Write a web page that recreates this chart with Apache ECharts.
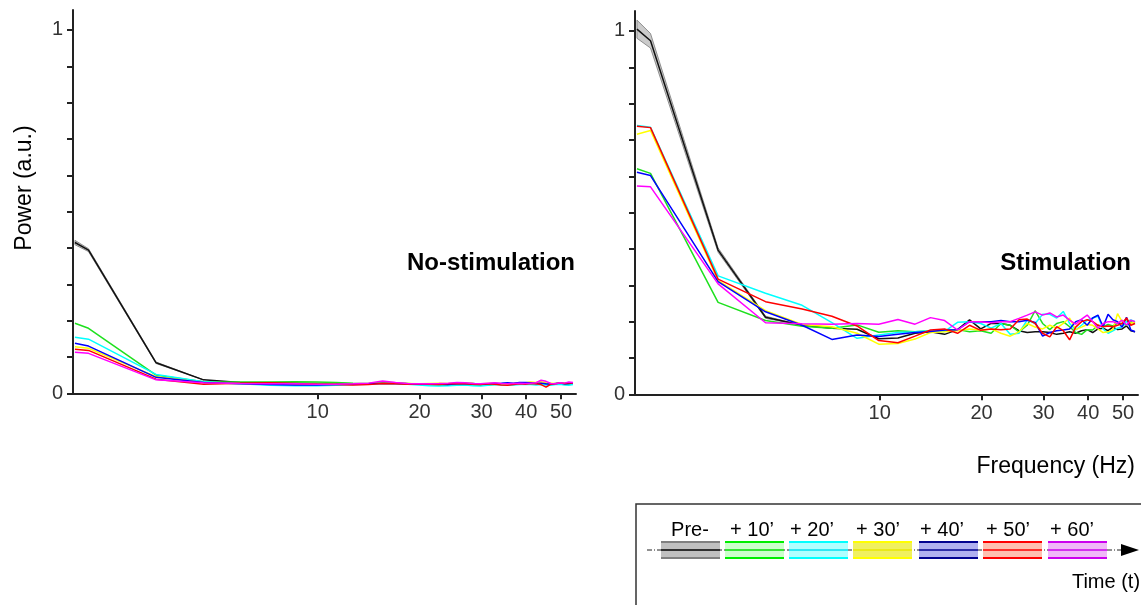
<!DOCTYPE html>
<html>
<head>
<meta charset="utf-8">
<script src="https://cdn.jsdelivr.net/npm/echarts@6/dist/echarts.min.js"></script>
<style>
html,body{margin:0;padding:0;background:#fff;}
#chart{width:1141px;height:605px;}
</style>
</head>
<body>
<div id="chart"></div>
<script>
// ---------------- DATA ----------------
const FREQ_HZ = [1.2, 1.42, 2.84, 4.26, 5.68, 7.1, 8.52, 9.94, 11.36, 12.78, 14.2, 15.62, 17.04, 18.46, 19.88, 21.3, 22.72, 24.14, 25.56, 26.98, 28.4, 29.82, 31.24, 32.66, 34.08, 35.5, 36.92, 38.34, 39.76, 41.18, 42.6, 44.02, 45.44, 46.86, 48.28, 49.7, 51.12, 52.54, 53.96];
const X_TICKS_HZ = [10, 20, 30, 40, 50];
const X_RANGE_HZ = [1.17, 55.0];
const Y_TICKS = [0, 0.1, 0.2, 0.3, 0.4, 0.5, 0.6, 0.7, 0.8, 0.9, 1.0];
const Y_LABELS = [0, 1];
const Y_MAX = 1.055;
const TIME_LABELS = ['Pre-', '+ 10\u2019', '+ 20\u2019', '+ 30\u2019', '+ 40\u2019', '+ 50\u2019', '+ 60\u2019'];

// No-stimulation panel
const NOSTIM_PRE = [0.415, 0.394, 0.084, 0.037, 0.03, 0.029, 0.028, 0.027, 0.027, 0.026, 0.026, 0.028, 0.027, 0.026, 0.025, 0.024, 0.025, 0.024, 0.025, 0.026, 0.027, 0.025, 0.024, 0.026, 0.025, 0.024, 0.026, 0.028, 0.029, 0.028, 0.026, 0.027, 0.025, 0.024, 0.026, 0.027, 0.025, 0.026, 0.027];
const NOSTIM_10 = [0.193, 0.179, 0.05, 0.032, 0.031, 0.031, 0.032, 0.031, 0.03, 0.028, 0.027, 0.03, 0.029, 0.027, 0.025, 0.024, 0.023, 0.022, 0.024, 0.025, 0.023, 0.022, 0.023, 0.024, 0.026, 0.027, 0.025, 0.028, 0.029, 0.027, 0.028, 0.027, 0.026, 0.025, 0.026, 0.028, 0.027, 0.026, 0.027];
const NOSTIM_20 = [0.154, 0.149, 0.052, 0.032, 0.026, 0.022, 0.021, 0.021, 0.022, 0.024, 0.025, 0.028, 0.027, 0.025, 0.023, 0.021, 0.02, 0.021, 0.022, 0.023, 0.021, 0.02, 0.022, 0.024, 0.023, 0.022, 0.023, 0.024, 0.025, 0.024, 0.023, 0.024, 0.023, 0.022, 0.024, 0.025, 0.023, 0.022, 0.024];
const NOSTIM_30 = [0.128, 0.124, 0.046, 0.029, 0.027, 0.026, 0.026, 0.025, 0.025, 0.025, 0.026, 0.029, 0.028, 0.027, 0.026, 0.027, 0.028, 0.027, 0.028, 0.029, 0.027, 0.026, 0.027, 0.028, 0.026, 0.025, 0.027, 0.028, 0.029, 0.031, 0.03, 0.032, 0.029, 0.028, 0.027, 0.029, 0.027, 0.028, 0.029];
const NOSTIM_40 = [0.138, 0.13, 0.044, 0.03, 0.026, 0.024, 0.023, 0.023, 0.024, 0.025, 0.026, 0.028, 0.027, 0.026, 0.025, 0.026, 0.025, 0.024, 0.026, 0.027, 0.026, 0.025, 0.026, 0.027, 0.028, 0.029, 0.028, 0.03, 0.03, 0.029, 0.027, 0.028, 0.026, 0.025, 0.027, 0.028, 0.026, 0.027, 0.028];
const NOSTIM_50 = [0.121, 0.118, 0.039, 0.025, 0.028, 0.029, 0.027, 0.025, 0.024, 0.023, 0.024, 0.027, 0.026, 0.025, 0.026, 0.025, 0.024, 0.026, 0.027, 0.026, 0.025, 0.024, 0.026, 0.025, 0.023, 0.022, 0.024, 0.026, 0.025, 0.027, 0.026, 0.024, 0.017, 0.025, 0.026, 0.028, 0.027, 0.029, 0.028];
const NOSTIM_60 = [0.113, 0.11, 0.037, 0.029, 0.027, 0.026, 0.026, 0.025, 0.025, 0.026, 0.028, 0.034, 0.03, 0.027, 0.026, 0.026, 0.027, 0.028, 0.03, 0.029, 0.027, 0.026, 0.028, 0.029, 0.027, 0.026, 0.027, 0.028, 0.027, 0.028, 0.029, 0.036, 0.033, 0.027, 0.026, 0.029, 0.028, 0.031, 0.03];
const NOSTIM_PRE_SEM = [0.006, 0.004, 0.002, 0];

// Stimulation panel
const STIM_PRE = [1.005, 0.973, 0.397, 0.212, 0.19, 0.182, 0.179, 0.153, 0.155, 0.168, 0.172, 0.165, 0.178, 0.205, 0.18, 0.195, 0.195, 0.19, 0.175, 0.17, 0.172, 0.172, 0.17, 0.165, 0.168, 0.172, 0.168, 0.175, 0.178, 0.17, 0.18, 0.182, 0.175, 0.185, 0.178, 0.18, 0.188, 0.175, 0.172];
const STIM_10 = [0.621, 0.608, 0.253, 0.203, 0.187, 0.182, 0.191, 0.171, 0.175, 0.172, 0.175, 0.176, 0.178, 0.172, 0.175, 0.168, 0.195, 0.19, 0.172, 0.19, 0.23, 0.195, 0.178, 0.195, 0.2, 0.186, 0.17, 0.165, 0.178, 0.177, 0.19, 0.186, 0.192, 0.188, 0.196, 0.195, 0.19, 0.2, 0.195];
const STIM_20 = [0.74, 0.735, 0.326, 0.278, 0.245, 0.197, 0.154, 0.163, 0.17, 0.172, 0.175, 0.173, 0.198, 0.2, 0.195, 0.182, 0.195, 0.165, 0.168, 0.205, 0.195, 0.22, 0.22, 0.21, 0.228, 0.195, 0.177, 0.19, 0.204, 0.21, 0.215, 0.18, 0.168, 0.175, 0.182, 0.186, 0.2, 0.205, 0.2];
const STIM_30 = [0.716, 0.726, 0.313, 0.23, 0.192, 0.186, 0.168, 0.138, 0.14, 0.152, 0.17, 0.172, 0.175, 0.18, 0.176, 0.18, 0.168, 0.16, 0.172, 0.195, 0.185, 0.18, 0.19, 0.182, 0.195, 0.21, 0.178, 0.185, 0.192, 0.19, 0.18, 0.17, 0.172, 0.178, 0.222, 0.2, 0.205, 0.195, 0.2];
const STIM_40 = [0.611, 0.602, 0.31, 0.227, 0.19, 0.151, 0.163, 0.159, 0.165, 0.17, 0.173, 0.177, 0.178, 0.2, 0.2, 0.2, 0.203, 0.2, 0.2, 0.204, 0.198, 0.16, 0.17, 0.175, 0.177, 0.18, 0.2, 0.205, 0.19, 0.21, 0.218, 0.186, 0.22, 0.205, 0.2, 0.185, 0.212, 0.177, 0.172];
const STIM_50 = [0.738, 0.734, 0.317, 0.255, 0.235, 0.215, 0.188, 0.148, 0.142, 0.16, 0.177, 0.18, 0.168, 0.19, 0.176, 0.18, 0.178, 0.18, 0.205, 0.207, 0.195, 0.168, 0.158, 0.186, 0.175, 0.15, 0.185, 0.2, 0.205, 0.2, 0.19, 0.186, 0.188, 0.186, 0.19, 0.195, 0.21, 0.19, 0.195];
const STIM_60 = [0.573, 0.571, 0.304, 0.197, 0.194, 0.193, 0.195, 0.193, 0.206, 0.193, 0.211, 0.203, 0.177, 0.2, 0.2, 0.197, 0.2, 0.2, 0.209, 0.218, 0.227, 0.218, 0.224, 0.213, 0.218, 0.204, 0.193, 0.207, 0.218, 0.2, 0.182, 0.195, 0.2, 0.2, 0.195, 0.204, 0.191, 0.204, 0.2];
const STIM_PRE_SEM = [0.025, 0.02, 0.006, 0.003, 0];

// ---------------- STYLE ----------------
const LINE_COLORS = ['#111111', '#1ee01e', '#00ffff', '#ffff00', '#0000ff', '#ff0000', '#ff00ff'];
const FONT = '"Liberation Sans", Arial, Helvetica, sans-serif';
const warp = f => Math.log10(f + 1.3);
const unwarp = t => Math.pow(10, t) - 1.3;

const chart = echarts.init(document.getElementById('chart'), null, {renderer: 'canvas'});

function xAxisFor(gridIndex) {
  return {
    type: 'value', gridIndex,
    min: warp(X_RANGE_HZ[0]), max: warp(X_RANGE_HZ[1]),
    axisLine: {show: true, onZero: false, lineStyle: {color: '#222', width: 2}},
    axisTick: {show: true, length: 6, inside: false, lineStyle: {color: '#222', width: 2},
               customValues: X_TICKS_HZ.map(warp)},
    axisLabel: {show: true, margin: 9, color: '#333', fontSize: 20, fontFamily: FONT,
                customValues: X_TICKS_HZ.map(warp),
                formatter: v => String(Math.round(unwarp(v)))},
    splitLine: {show: false}
  };
}
function yAxisFor(gridIndex) {
  return {
    type: 'value', gridIndex, min: 0, max: Y_MAX,
    axisLine: {show: true, onZero: false, lineStyle: {color: '#222', width: 2}},
    axisTick: {show: true, length: 6, inside: false, lineStyle: {color: '#222', width: 2},
               customValues: Y_TICKS},
    axisLabel: {show: true, margin: 10, color: '#333', fontSize: 20, fontFamily: FONT,
                customValues: Y_LABELS, formatter: v => String(Math.round(v))},
    splitLine: {show: false}
  };
}

const PANELS = [
  {values: [NOSTIM_PRE, NOSTIM_10, NOSTIM_20, NOSTIM_30, NOSTIM_40, NOSTIM_50, NOSTIM_60], sem: NOSTIM_PRE_SEM},
  {values: [STIM_PRE, STIM_10, STIM_20, STIM_30, STIM_40, STIM_50, STIM_60], sem: STIM_PRE_SEM}
];

const series = [];
PANELS.forEach((panel, pi) => {
  const pre = panel.values[0];
  const n = panel.sem.length;
  series.push({
    type: 'custom', xAxisIndex: pi, yAxisIndex: pi, silent: true, z: 1,
    data: [[warp(FREQ_HZ[0]), pre[0]]],
    renderItem: (params, api) => {
      const upper = [], lower = [];
      for (let i = 0; i < n; i++) {
        upper.push(api.coord([warp(FREQ_HZ[i]), pre[i] + panel.sem[i]]));
        lower.unshift(api.coord([warp(FREQ_HZ[i]), pre[i] - panel.sem[i]]));
      }
      return {type: 'polygon', shape: {points: upper.concat(lower)},
              style: {fill: 'rgba(160,160,160,0.55)', stroke: 'rgba(120,120,120,0.8)', lineWidth: 1}};
    }
  });
  panel.values.forEach((vals, si) => {
    series.push({
      type: 'line', name: TIME_LABELS[si], xAxisIndex: pi, yAxisIndex: pi,
      data: vals.map((v, i) => [warp(FREQ_HZ[i]), v]),
      showSymbol: false, symbol: 'none', smooth: false, z: 2 + si,
      lineStyle: {color: LINE_COLORS[si], width: 1.5}, silent: true
    });
  });
});

// Legend (timeline) graphics
const LEG_X = [661, 725, 789, 853, 919, 983, 1048];
const LEG_LABEL_X = [690, 752, 812, 878, 942, 1008, 1072];
const LEG_FILL = ['#c0c0c0', '#ccffcc', '#b0ffff', '#f0f060', '#b0b0f0', '#ffc0b0', '#f0b8f8'];
const LEG_EDGE = ['#808080', '#00ee00', '#00ffff', '#ffff00', '#000090', '#ff0000', '#cc00ee'];
const LEG_MID  = ['#000000', '#00dd00', '#00e0f0', '#e8e800', '#000090', '#ff0000', '#cc00ee'];

const graphics = [
  {type: 'text', x: 575, y: 263, style: {text: 'No-stimulation', font: 'bold 24px ' + FONT, fill: '#000', align: 'right', verticalAlign: 'middle'}},
  {type: 'text', x: 1131, y: 263, style: {text: 'Stimulation', font: 'bold 24px ' + FONT, fill: '#000', align: 'right', verticalAlign: 'middle'}},
  {type: 'text', x: 1135, y: 467, style: {text: 'Frequency (Hz)', font: '23px ' + FONT, fill: '#000', align: 'right', verticalAlign: 'middle'}},
  {type: 'text', x: 25, y: 188, rotation: Math.PI / 2, style: {text: 'Power (a.u.)', font: '23px ' + FONT, fill: '#000', align: 'center', verticalAlign: 'middle'}},
  {type: 'rect', shape: {x: 636, y: 504, width: 540, height: 140}, style: {fill: '#fff', stroke: '#333', lineWidth: 1.5}, z: 10},
  {type: 'line', shape: {x1: 647, y1: 550, x2: 1124, y2: 550}, style: {stroke: '#222', lineWidth: 1, lineDash: [5, 2, 1, 2]}, z: 11},
  {type: 'polygon', shape: {points: [[1121, 544], [1139, 550], [1121, 556]]}, style: {fill: '#000'}, z: 12},
  {type: 'text', x: 1106, y: 582, style: {text: 'Time (t)', font: '20px ' + FONT, fill: '#000', align: 'center', verticalAlign: 'middle'}, z: 12}
];
TIME_LABELS.forEach((lab, i) => {
  const x = LEG_X[i], w = 59;
  graphics.push({type: 'rect', shape: {x: x, y: 541, width: w, height: 18}, style: {fill: LEG_FILL[i]}, z: 12});
  graphics.push({type: 'line', shape: {x1: x, y1: 542, x2: x + w, y2: 542}, style: {stroke: LEG_EDGE[i], lineWidth: 2}, z: 13});
  graphics.push({type: 'line', shape: {x1: x, y1: 558, x2: x + w, y2: 558}, style: {stroke: LEG_EDGE[i], lineWidth: 2}, z: 13});
  graphics.push({type: 'line', shape: {x1: x, y1: 550, x2: x + w, y2: 550}, style: {stroke: LEG_MID[i], lineWidth: 1.5}, z: 13});
  graphics.push({type: 'text', x: LEG_LABEL_X[i], y: 530, style: {text: lab, font: '20px ' + FONT, fill: '#000', align: 'center', verticalAlign: 'middle'}, z: 13});
});

chart.setOption({
  animation: false,
  backgroundColor: '#fff',
  grid: [
    {left: 73, top: 10, width: 503, height: 383.3},
    {left: 635, top: 11, width: 503, height: 383.3}
  ],
  xAxis: [xAxisFor(0), xAxisFor(1)],
  yAxis: [yAxisFor(0), yAxisFor(1)],
  series: series,
  graphic: graphics
});
</script>
</body>
</html>
